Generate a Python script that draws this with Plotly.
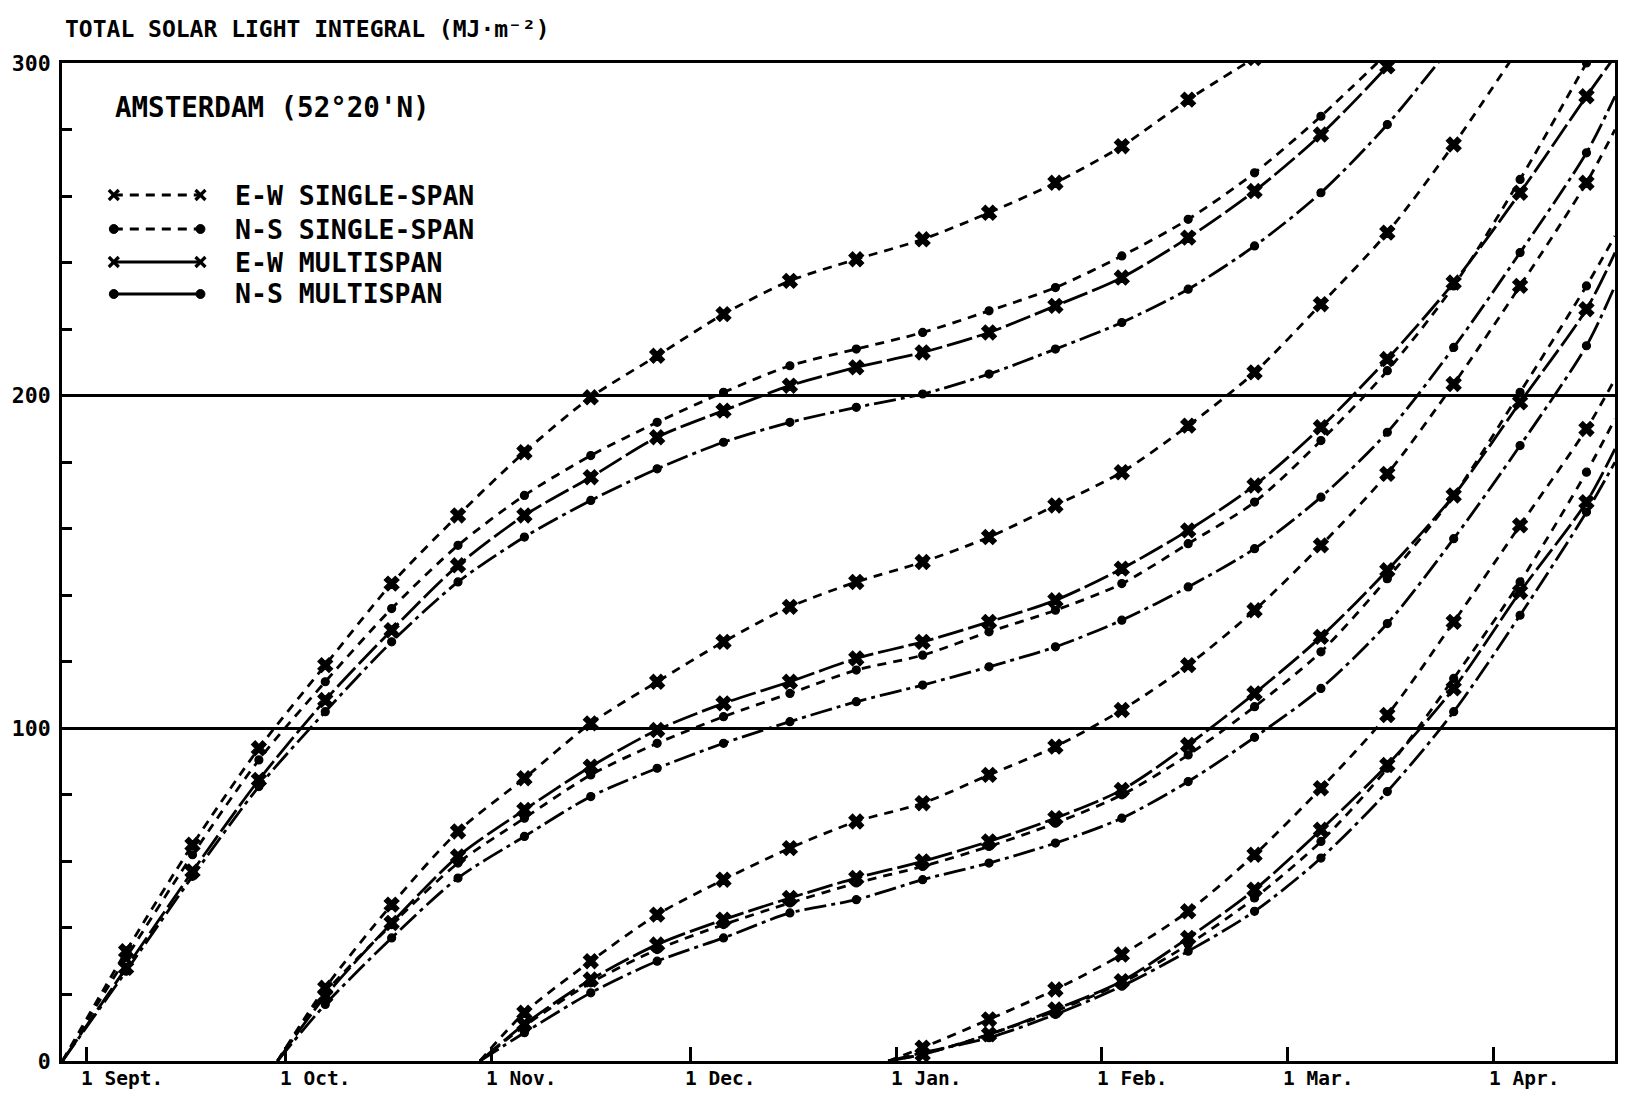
import plotly.graph_objects as go

# ---------------- axis data ----------------
MONTH_DAYS = [0, 30, 61, 91, 122, 153, 181, 212]          # days after 1 Sept
MONTH_LABELS = ["1 Sept.", "1 Oct.", "1 Nov.", "1 Dec.", "1 Jan.", "1 Feb.", "1 Mar.", "1 Apr."]
Y_TICKS = [0, 100, 200, 300]
Y_TICK_LABELS = ["0", "100", "200", "300"]
Y_MINOR = [20, 40, 60, 80, 120, 140, 160, 180, 220, 240, 260, 280]
X_RANGE = [-3.66, 230.3]
Y_RANGE = [0, 300]

# ---------------- series data ----------------
MARKER_DAYS = [6, 16, 26, 36, 46, 56, 66, 76, 86, 96, 106, 116, 126, 136, 146,
               156, 166, 176, 186, 196, 206, 216, 226]
START_DAYS = [-3.6, 28.8, 59.3, 120.8]      # start of integration for the 4 groups
FIRST_MARKER = [6, 36, 66, 126]
EDGE_DAY = 230.3

# E-W single-span
EW_SINGLE_G1 = [33, 65, 94, 119, 143.5, 164, 183, 199.5, 212, 224.5, 234.5, 241, 247, 255, 264, 275, 289, 301.5]
EW_SINGLE_G2 = [22, 47, 69, 85, 101.5, 114, 126, 136.5, 144, 150, 157.5, 167, 177, 191, 207, 227.5, 249, 275.5, 305]
EW_SINGLE_G3 = [14.5, 30, 44, 54.5, 64, 72, 77.5, 86, 94.5, 105.5, 119, 135.5, 155, 176.5, 203.5, 233, 264]
EW_SINGLE_G4 = [4, 12.5, 21.5, 32, 45, 62, 82, 104, 132, 161, 190]
EW_SINGLE_EDGE = [None, None, 280, 205]

# N-S single-span
NS_SINGLE_G1 = [31, 62, 90.5, 114, 136, 155, 170, 182, 192, 201, 209, 214, 219, 225.5, 232.5, 242, 253, 267, 284, 303]
NS_SINGLE_G2 = [20.5, 41, 59.5, 73, 86, 95.5, 103.5, 110.5, 117.5, 122, 129, 135.5, 143.5, 155.5, 168, 186.5, 207.5, 233, 265, 300]
NS_SINGLE_G3 = [10.5, 23.5, 33.5, 41, 47.5, 53.5, 58.5, 64.5, 71.5, 80, 92, 106.5, 123, 145, 170, 201, 233]
NS_SINGLE_G4 = [2, 8, 15, 23.5, 35, 49, 66, 88, 115, 144, 177]
NS_SINGLE_EDGE = [None, None, 248, 193]

# E-W multispan
EW_MULTI_G1 = [28, 57, 84.5, 108.5, 129.5, 149, 164, 175.5, 187.5, 195.5, 203, 208.5, 213, 219, 227, 235.5, 247.5, 261.5, 278.5, 299, 322]
EW_MULTI_G2 = [19.5, 41.5, 61.5, 75.5, 88.5, 99.5, 107.5, 114, 121, 126, 132, 138.5, 148, 159.5, 173, 190.5, 211, 234, 261, 290]
EW_MULTI_G3 = [11, 24.5, 35, 42.5, 49, 55, 60, 66, 73, 81.5, 95, 110.5, 127.5, 147.5, 170, 198, 226]
EW_MULTI_G4 = [2, 8, 15.5, 24, 37, 51.5, 69.5, 89, 112, 141, 168]
EW_MULTI_EDGE = [None, 302, 243, 184]

# N-S multispan
NS_MULTI_G1 = [27, 55.5, 82.5, 105, 126, 144, 157.5, 168.5, 178, 186, 192, 196.5, 200.5, 206.5, 214, 222, 232, 245, 261, 281.5, 306]
NS_MULTI_G2 = [17, 37, 55, 67.5, 79.5, 88, 95.5, 102, 108, 113, 118.5, 124.5, 132.5, 142.5, 154, 169.5, 189, 214.5, 243, 273]
NS_MULTI_G3 = [8.5, 20.5, 30, 37, 44.5, 48.5, 54.5, 59.5, 65.5, 73, 84, 97.3, 112, 131.5, 157, 185, 215]
NS_MULTI_G4 = [2.5, 7, 14, 22.5, 33, 45, 61, 81, 105, 134, 165]
NS_MULTI_EDGE = [None, 290, 233, 180]

SERIES_NAMES = ["E-W SINGLE-SPAN", "N-S SINGLE-SPAN", "E-W MULTISPAN", "N-S MULTISPAN"]

TITLE = "TOTAL SOLAR LIGHT INTEGRAL (MJ·m⁻²)"
SUBTITLE = "AMSTERDAM (52°20'N)"

# ---------------- styling ----------------
FONT = "DejaVu Sans Mono"
INK = "black"
STYLES = {
    "E-W SINGLE-SPAN": dict(dash="9px,7px", symbol="x", size=13),
    "N-S SINGLE-SPAN": dict(dash="9px,7px", symbol="circle", size=8),
    "E-W MULTISPAN": dict(dash="26px,5px", symbol="x", size=13),
    "N-S MULTISPAN": dict(dash="22px,5px,4px,5px", symbol="circle", size=8),
}

W, H = 1630, 1094
ML, MR, MT, MB = 59, 12, 63, 33
PLOT_W = W - ML - MR
PLOT_H = H - MT - MB


def px_to_paper(px, py):
    return (px - ML) / PLOT_W, (H - MB - py) / PLOT_H


fig = go.Figure()

groups = {
    "E-W SINGLE-SPAN": ([EW_SINGLE_G1, EW_SINGLE_G2, EW_SINGLE_G3, EW_SINGLE_G4], EW_SINGLE_EDGE),
    "N-S SINGLE-SPAN": ([NS_SINGLE_G1, NS_SINGLE_G2, NS_SINGLE_G3, NS_SINGLE_G4], NS_SINGLE_EDGE),
    "E-W MULTISPAN": ([EW_MULTI_G1, EW_MULTI_G2, EW_MULTI_G3, EW_MULTI_G4], EW_MULTI_EDGE),
    "N-S MULTISPAN": ([NS_MULTI_G1, NS_MULTI_G2, NS_MULTI_G3, NS_MULTI_G4], NS_MULTI_EDGE),
}

for name in SERIES_NAMES:
    series_list, edges = groups[name]
    st = STYLES[name]
    for gi, vals in enumerate(series_list):
        i0 = MARKER_DAYS.index(FIRST_MARKER[gi])
        days = MARKER_DAYS[i0:i0 + len(vals)]
        xs = [START_DAYS[gi]] + days
        ys = [0] + vals
        sizes = [0] + [st["size"]] * len(vals)
        if edges[gi] is not None:
            xs.append(EDGE_DAY)
            ys.append(edges[gi])
            sizes.append(0)
        fig.add_trace(go.Scatter(
            x=xs, y=ys, mode="lines+markers", name=name,
            legendgroup=name, showlegend=False,
            line=dict(color=INK, width=2.8, dash=st["dash"], shape="spline", smoothing=0.8),
            marker=dict(color=INK, symbol=st["symbol"], size=sizes, opacity=1,
                        line=dict(width=1.2, color=INK)),
            cliponaxis=True,
            hoverinfo="skip",
        ))

# ---------------- legend (drawn) ----------------
shapes = []
annotations = []
LEG_ROWS_PX = [195, 229, 262, 294]
LEG_X0, LEG_X1, LEG_TXT = 111, 198, 231
for name, ry in zip(SERIES_NAMES, LEG_ROWS_PX):
    st = STYLES[name]
    dash = "9px,7px" if "SINGLE" in name else "solid"
    x0, y0 = px_to_paper(LEG_X0, ry)
    x1, _ = px_to_paper(LEG_X1, ry)
    shapes.append(dict(type="line", xref="paper", yref="paper", x0=x0, x1=x1, y0=y0, y1=y0,
                       line=dict(color=INK, width=2.8, dash=dash)))
    for mx in (LEG_X0, LEG_X1):
        if st["symbol"] == "x":
            a = px_to_paper(mx - 5, ry - 5)
            b = px_to_paper(mx + 5, ry + 5)
            c = px_to_paper(mx - 5, ry + 5)
            d = px_to_paper(mx + 5, ry - 5)
            shapes.append(dict(type="line", xref="paper", yref="paper", x0=a[0], y0=a[1], x1=b[0], y1=b[1],
                               line=dict(color=INK, width=3.2)))
            shapes.append(dict(type="line", xref="paper", yref="paper", x0=c[0], y0=c[1], x1=d[0], y1=d[1],
                               line=dict(color=INK, width=3.2)))
        else:
            a = px_to_paper(mx - 4.5, ry - 4.5)
            b = px_to_paper(mx + 4.5, ry + 4.5)
            shapes.append(dict(type="circle", xref="paper", yref="paper", x0=a[0], y0=a[1], x1=b[0], y1=b[1],
                               fillcolor=INK, line=dict(color=INK, width=1)))
    tx, ty = px_to_paper(LEG_TXT, ry)
    annotations.append(dict(text=name, xref="paper", yref="paper", x=tx, y=ty,
                            xanchor="left", yanchor="middle", showarrow=False,
                            font=dict(family=FONT, size=26.5, color=INK, weight="bold")))

tx, ty = px_to_paper(60, 29)
annotations.append(dict(text=TITLE, xref="paper", yref="paper", x=tx, y=ty, xanchor="left",
                        yanchor="middle", showarrow=False,
                        font=dict(family=FONT, size=23, color=INK, weight="bold")))
tx, ty = px_to_paper(110, 107)
annotations.append(dict(text=SUBTITLE, xref="paper", yref="paper", x=tx, y=ty, xanchor="left",
                        yanchor="middle", showarrow=False,
                        font=dict(family=FONT, size=27.5, color=INK, weight="bold")))

for d, lab in zip(MONTH_DAYS, MONTH_LABELS):
    annotations.append(dict(text=lab, xref="x", yref="paper", x=d, y=0, xanchor="left",
                            yanchor="top", xshift=-7, yshift=-4, showarrow=False,
                            font=dict(family=FONT, size=19.5, color=INK, weight="bold")))

fig.update_layout(
    width=W, height=H,
    margin=dict(l=ML, r=MR, t=MT, b=MB, pad=0),
    paper_bgcolor="white", plot_bgcolor="white",
    showlegend=False,
    shapes=shapes, annotations=annotations,
    xaxis=dict(range=X_RANGE, tickvals=MONTH_DAYS, showticklabels=False,
               ticks="inside", ticklen=14, tickwidth=3, tickcolor=INK,
               showline=True, linecolor=INK, linewidth=3, mirror=True,
               showgrid=False, zeroline=False),
    yaxis=dict(range=Y_RANGE, tickvals=Y_TICKS, ticktext=Y_TICK_LABELS,
               ticks="", showline=True, linecolor=INK, linewidth=3, mirror=True,
               showgrid=True, gridcolor=INK, gridwidth=2.5, zeroline=False,
               ticklabelstandoff=4,
               tickfont=dict(family=FONT, size=21.5, color=INK, weight="bold"),
               minor=dict(tickvals=Y_MINOR, ticks="inside", ticklen=10, tickwidth=2.5,
                          tickcolor=INK, showgrid=False)),
)

fig.write_html("out.html",
               config={"displayModeBar": False},
               post_script="document.body.style.margin='0';document.body.style.overflow='hidden';")
